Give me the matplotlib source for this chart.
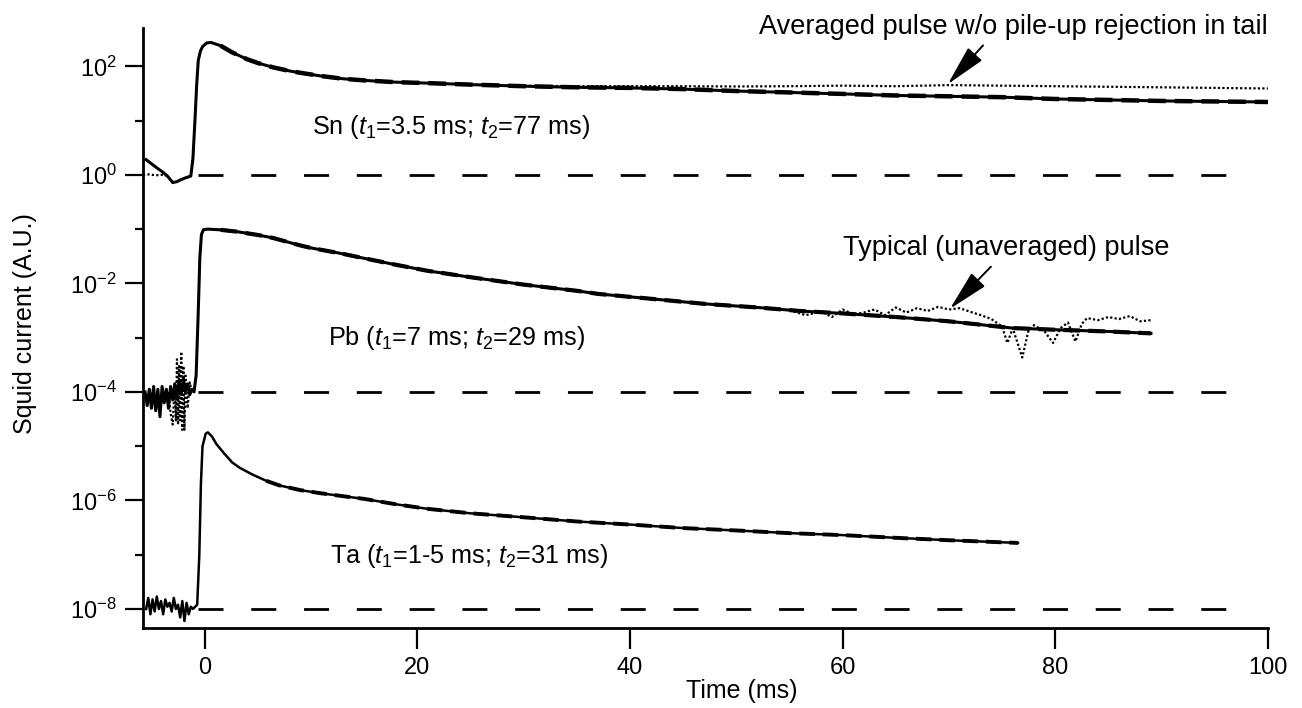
import numpy as np
from matplotlib import pyplot as plt
from matplotlib.ticker import FixedLocator, LogFormatterSciNotation, NullFormatter

plt.rcParams.update({'font.size': 17})
plt.rcParams['font.family'] = ['Liberation Sans', 'DejaVu Sans']
plt.rcParams['mathtext.fontset'] = 'custom'
plt.rcParams['mathtext.rm'] = 'Liberation Sans'
plt.rcParams['mathtext.it'] = 'Liberation Sans:italic'


# Sn: averaged pulse (solid)
sn_t = [-5.5, -5.0, -4.5, -4.0, -3.5, -3.0, -2.6, -2.2, -1.8, -1.3, -1.1, -0.9, -0.75, -0.6, -0.4, -0.2,
        0.2, 0.6, 1.5, 2.6, 4, 5, 6.5, 8, 9, 11, 13, 15, 18, 21, 25, 30, 35, 40, 45, 50, 55, 60, 65,
        70, 75, 80, 85, 90, 95, 100]
sn_y = [1.9, 1.6, 1.35, 1.15, 0.95, 0.72, 0.75, 0.82, 0.88, 0.95, 2.0, 11, 45, 127, 190, 230,
        270, 275, 240, 180, 135, 115, 95, 82, 76, 66, 59, 55, 51, 49, 46, 43, 41, 40, 38, 35, 33, 31, 29,
        28, 27, 25, 24, 23, 22.5, 22]

# Sn: averaged pulse w/o pile-up rejection (dotted)
sn_pre_t = [-5.8, -5.2, -4.6, -4.0, -3.6]
sn_pre_y = [1.0, 1.02, 0.98, 1.0, 0.97]
sn_np_t = [28, 32, 36, 40, 45, 50, 55, 60, 65, 70, 75, 80, 85, 90, 95, 100]
sn_np_y = [44, 43.5, 43, 43, 43, 42.5, 43, 44, 43, 45, 44, 43, 42, 41, 40, 39]

# Pb: averaged pulse (solid)
pb_t = [-5.6, -5.4, -5.2, -5.0, -4.8, -4.6, -4.4, -4.2, -4.0, -3.8, -3.6, -3.4, -3.2, -3.0, -2.8, -2.6,
        -2.4, -2.2, -2.0, -1.8, -1.6, -1.4, -1.2, -1.0, -0.8, -0.6, -0.45, -0.3, -0.1, 0.3, 1.5, 3, 5,
        6.4, 9, 10, 12.7, 15, 18, 21, 25, 30, 35, 37, 42, 47, 52, 56, 60, 65, 70, 76, 80, 85, 89]
pb_y = [1.0e-4, 0.56e-4, 1.12e-4, 0.5e-4, 1.26e-4, 0.45e-4, 1.12e-4, 0.35e-4, 1.26e-4, 0.63e-4,
        1.12e-4, 0.5e-4, 1.26e-4, 0.71e-4, 1.41e-4, 0.79e-4, 1.58e-4, 0.89e-4, 1.78e-4, 1.0e-4,
        1.41e-4, 0.89e-4, 1.12e-4, 1.0e-4, 2e-4, 3e-3, 0.03, 0.08, 0.098, 0.1, 0.097, 0.09, 0.078,
        0.069, 0.05, 0.045, 0.036, 0.029, 0.022, 0.017, 0.013, 0.0095, 0.0073, 0.0064, 0.0052, 0.0042,
        0.0036, 0.0031, 0.0028, 0.0024, 0.0020, 0.0015, 0.0014, 0.0013, 0.0012]

# Pb: typical (unaveraged) pulse (dotted)
pb_raw_pre_t = [-3.4, -3.2, -3.0, -2.8, -2.7, -2.6, -2.5, -2.4, -2.3, -2.2, -2.1, -2.0, -1.9, -1.8,
                -1.6, -1.4, -1.2]
pb_raw_pre_y = [1e-4, 4e-5, 2.5e-5, 1.5e-4, 3e-5, 4e-4, 2.5e-5, 3e-4, 3e-5, 5.5e-4, 2e-5, 3e-4, 2e-5,
                2e-4, 5e-5, 1.5e-4, 1e-4]
pb_raw_t = [55, 56.5, 58, 59, 60, 61, 62, 63, 64, 65, 66, 67, 68, 69, 70, 71, 72, 73, 74, 75, 75.5, 76,
            76.9, 77.5, 78, 79, 79.8, 80.5, 81.2, 81.9, 82.5, 83, 84, 85, 86, 87, 88, 89]
pb_raw_y = [3.2e-3, 2.6e-3, 3.0e-3, 2.4e-3, 3.3e-3, 2.7e-3, 2.9e-3, 3.3e-3, 2.6e-3, 3.6e-3, 2.9e-3,
            3.5e-3, 3.1e-3, 3.7e-3, 3.3e-3, 3.5e-3, 3.0e-3, 2.6e-3, 2.2e-3, 1.6e-3, 8e-4, 1.5e-3,
            4.3e-4, 1.4e-3, 1.7e-3, 1.3e-3, 8e-4, 1.5e-3, 1.9e-3, 8.5e-4, 1.8e-3, 2.3e-3, 2.1e-3,
            2.4e-3, 2.2e-3, 2.5e-3, 2.0e-3, 2.1e-3]

# Ta: averaged pulse (solid)
ta_t = [-5.5, -5.3, -5.1, -4.9, -4.7, -4.5, -4.3, -4.1, -3.9, -3.7, -3.5, -3.3, -3.1, -2.9, -2.7, -2.5,
        -2.3, -2.1, -1.9, -1.7, -1.5, -1.3, -1.1, -0.7, -0.5, -0.35, -0.2, 0.1, 0.3, 0.7, 1.1, 1.8, 2.6,
        3.3, 4.5, 5.8, 7, 9, 11, 13, 15, 18, 21, 25, 30, 35, 40, 45, 50, 55, 60, 65, 70, 76.5]
ta_y = [1.0e-8, 1.6e-8, 0.8e-8, 1.5e-8, 0.9e-8, 1.7e-8, 1.0e-8, 1.4e-8, 0.8e-8, 1.5e-8, 1.1e-8,
        1.3e-8, 0.9e-8, 1.6e-8, 1.0e-8, 1.2e-8, 0.7e-8, 1.4e-8, 0.6e-8, 1.3e-8, 0.8e-8, 1.1e-8,
        1.0e-8, 1.2e-8, 1e-7, 2e-6, 1e-5, 1.7e-5, 1.8e-5, 1.5e-5, 1.1e-5, 7.5e-6, 5.0e-6, 4.0e-6,
        3.0e-6, 2.3e-6, 1.9e-6, 1.55e-6, 1.35e-6, 1.2e-6, 1.07e-6, 8.5e-7, 7.0e-7, 5.8e-7, 4.9e-7,
        4.1e-7, 3.6e-7, 3.1e-7, 2.8e-7, 2.5e-7, 2.3e-7, 2.05e-7, 1.85e-7, 1.65e-7]

# baselines
base_t = [-0.6, 98]
base_sn = [1.0, 1.0]
base_pb = [1e-4, 1e-4]
base_ta = [1e-8, 1e-8]

labels = ["Sn ($t_\\mathregular{1}$=3.5 ms; $t_\\mathregular{2}$=77 ms)",
          "Pb ($t_\\mathregular{1}$=7 ms; $t_\\mathregular{2}$=29 ms)",
          "Ta ($t_\\mathregular{1}$=1-5 ms; $t_\\mathregular{2}$=31 ms)"]
label_pos = [(10.1, 7.5), (11.6, 1.0e-3), (11.8, 9.5e-8)]

x_ticks = [0, 20, 40, 60, 80, 100]
y_major = [1e-8, 1e-6, 1e-4, 1e-2, 1e0, 1e2]
y_minor = [1e-7, 1e-5, 1e-3, 1e-1, 1e1]


fig = plt.figure(figsize=(13.02, 7.08), dpi=100)
ax = fig.add_axes([0.1098, 0.113, 0.864, 0.847])

ax.plot(sn_t, sn_y, '-', color='black', lw=2.2)
ax.plot(sn_pre_t, sn_pre_y, color='black', lw=1.6, dashes=(1, 1))
ax.plot(sn_np_t, sn_np_y, color='black', lw=1.6, dashes=(1, 1))

ax.plot(pb_raw_pre_t, pb_raw_pre_y, color='black', lw=1.6, dashes=(1, 1))
ax.plot(pb_raw_t, pb_raw_y, color='black', lw=1.6, dashes=(1, 1))
ax.plot(pb_t, pb_y, '-', color='black', lw=2.2)

ax.plot(ta_t, ta_y, '-', color='black', lw=1.8)

# fits over the tails
i0 = sn_t.index(1.5)
ax.plot(sn_t[i0:], sn_y[i0:], '--', color='black', lw=3.2, dashes=(4, 2))
i0 = pb_t.index(1.5)
ax.plot(pb_t[i0:], pb_y[i0:], '--', color='black', lw=3.0, dashes=(4, 2))
i0 = ta_t.index(5.8)
ax.plot(ta_t[i0:], ta_y[i0:], '--', color='black', lw=2.8, dashes=(4, 2))

for b in [base_sn, base_pb, base_ta]:
    ax.plot(base_t, b, color='black', lw=2.0, dashes=(9, 10))

for lab, pos in zip(labels, label_pos):
    ax.text(pos[0], pos[1], lab, fontsize=18.2, ha='left', va='center')

ax.annotate("Averaged pulse w/o pile-up rejection in tail", xy=(69.9, 47), xytext=(76.1, 540),
            ha='center', va='center', fontsize=19.5, annotation_clip=False,
            arrowprops=dict(arrowstyle='-|>,head_length=1.3,head_width=0.3', color='black', lw=1.4,
                            relpos=(0.45, 0.0), shrinkA=3, shrinkB=0))
ax.annotate("Typical (unaveraged) pulse", xy=(70.1, 3.4e-3), xytext=(75.4, 0.045),
            ha='center', va='center', fontsize=19.5,
            arrowprops=dict(arrowstyle='-|>,head_length=1.3,head_width=0.3', color='black', lw=1.4,
                            relpos=(0.47, 0.0), shrinkA=3, shrinkB=0))

ax.set_yscale('log')
ax.set_xlim(-5.8, 100)
ax.set_ylim(10 ** -8.35, 10 ** 2.7)
ax.set_xticks(x_ticks)
ax.yaxis.set_major_locator(FixedLocator(y_major))
ax.yaxis.set_major_formatter(LogFormatterSciNotation(base=10))
ax.yaxis.set_minor_locator(FixedLocator(y_minor))
ax.yaxis.set_minor_formatter(NullFormatter())

ax.spines['top'].set_visible(False)
ax.spines['right'].set_visible(False)
ax.spines['left'].set_linewidth(2.0)
ax.spines['bottom'].set_linewidth(2.0)
ax.tick_params(which='major', direction='out', length=13, width=1.6, labelsize=17, pad=6)
ax.tick_params(axis='x', which='major', length=15)
ax.tick_params(which='minor', direction='out', length=6, width=1.6)

ax.set_xlabel("Time (ms)", fontsize=18)
ax.xaxis.set_label_coords(0.532, -0.085)
ax.set_ylabel("Squid current (A.U.)", fontsize=18)
ax.yaxis.set_label_coords(-0.094, 0.507)

fig.savefig("out.png", dpi=100)
